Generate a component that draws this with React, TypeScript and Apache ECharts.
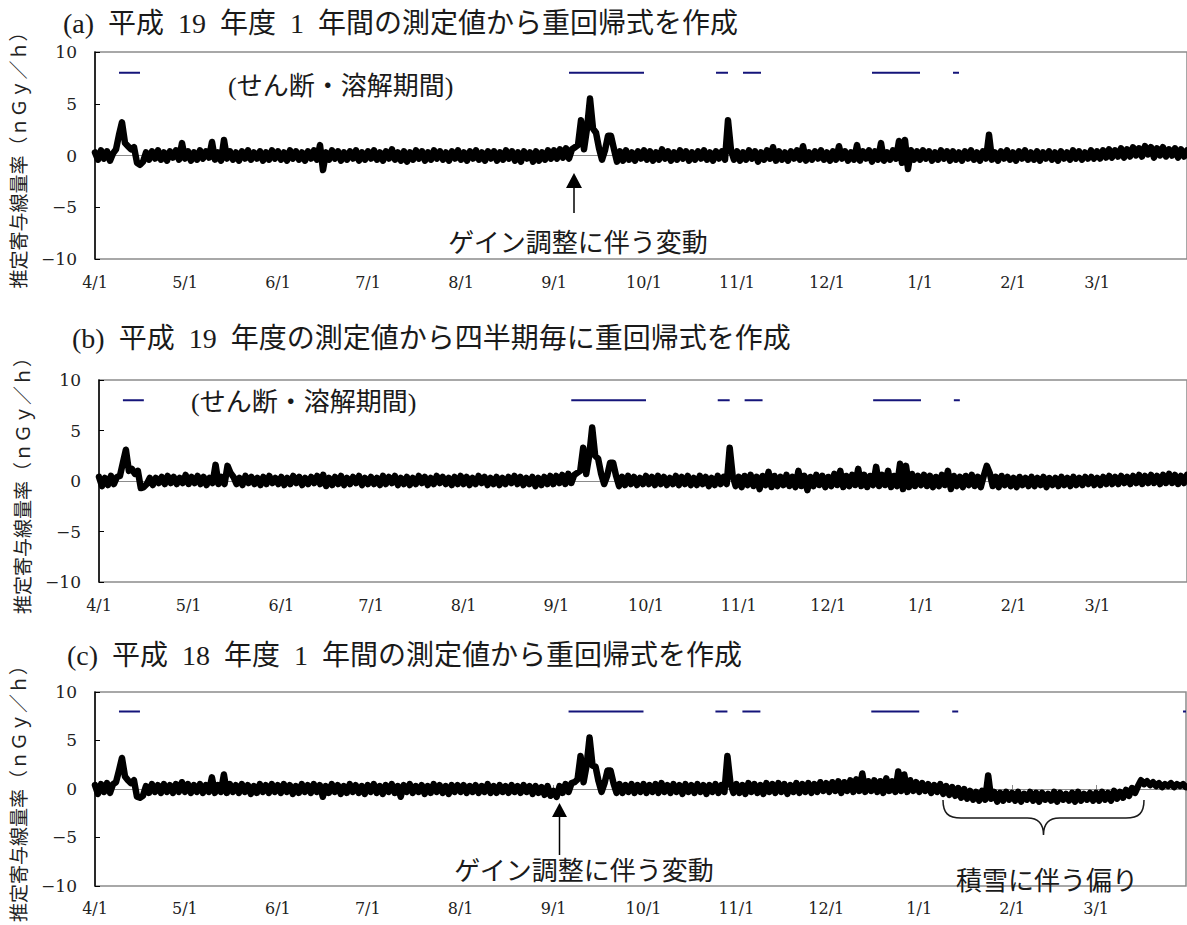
import React, { useEffect, useRef } from "react";
import * as echarts from "echarts";

// month order of a fiscal year (April -> March)
const monthNames = [4, 5, 6, 7, 8, 9, 10, 11, 12, 1, 2, 3];
const yMin = -10;
const yMax = 10;
const yInterval = 5;
const periodLevel = 8;

// shear / dissolution periods (day index from 4/1, inclusive)
const shearPeriodsAB = [[8, 15], [158, 183], [207, 211], [216, 222], [259, 275], [286, 288]];
const shearPeriodsC = [[8, 15], [158, 183], [207, 211], [216, 222], [259, 275], [286, 288], [363, 364]];

const titles = [
  "(a)\u2002平成\u200219\u2002年度\u20021\u2002年間の測定値から重回帰式を作成",
  "(b)\u2002平成\u200219\u2002年度の測定値から四半期毎に重回帰式を作成",
  "(c)\u2002平成\u200218\u2002年度\u20021\u2002年間の測定値から重回帰式を作成",
];
const yName = "推定寄与線量率（ｎＧｙ／ｈ）";
const periodNote = "(せん断・溶解期間)";
const gainNote = "ゲイン調整に伴う変動";
const snowNote = "積雪に伴う偏り";

// (a) daily estimated dose rate, one row per month
const doseA = [
  [0.3,-0.4,0.5,-0.3,0.4,-0.5,0.2,0.6,2.0,3.2,1.2,0.9,0.6,0.8,-0.7,-0.9,-0.6,0.3,-0.4,0.4,-0.3,0.5,-0.4,0.3,-0.5,0.4,-0.2,0.5,-0.4,1.2],
  [-0.3,0.4,-0.5,0.3,-0.4,0.5,-0.3,0.4,-0.2,1.3,-0.4,0.3,-0.5,1.5,-0.3,0.4,-0.4,0.3,-0.5,0.4,-0.3,0.5,-0.4,0.3,-0.3,0.4,-0.5,0.3,-0.4,0.5,-0.3],
  [0.4,-0.4,0.3,-0.5,0.5,-0.3,0.4,-0.4,0.3,-0.5,0.4,-0.3,0.5,-0.4,1.0,-1.4,0.3,-0.4,0.5,-0.3,0.4,-0.5,0.3,-0.4,0.4,-0.3,0.5,-0.5,0.3,-0.4],
  [0.4,-0.3,0.5,-0.4,0.3,-0.5,0.4,-0.3,0.6,-0.4,0.3,-0.5,0.4,-0.6,0.3,-0.4,0.5,-0.3,0.4,-0.5,0.3,-0.4,0.5,-0.3,0.4,-0.4,0.3,-0.5,0.4,-0.3,0.5],
  [-0.4,0.3,-0.5,0.4,-0.3,0.5,-0.4,0.3,-0.5,0.4,-0.3,0.4,-0.5,0.3,-0.4,0.5,-0.3,0.4,-0.5,0.3,-0.6,0.4,-0.3,0.3,-0.6,0.4,-0.5,0.3,-0.4,0.5,-0.3],
  [0.5,-0.3,0.6,-0.2,0.7,-0.3,0.6,0.8,1.0,3.4,0.6,2.6,5.5,2.6,2.2,0.7,-0.4,0.5,1.9,1.9,0.6,-0.6,0.4,-0.5,0.5,-0.4,0.3,-0.5,0.4,-0.3],
  [0.5,-0.4,0.4,-0.5,0.3,-0.4,0.6,-0.3,0.4,-0.5,0.3,-0.4,0.5,-0.3,0.4,-0.5,0.3,-0.4,0.4,-0.3,0.5,-0.4,0.3,-0.5,0.4,-0.3,0.4,-0.4,3.4,0.5,-0.4],
  [0.4,-0.5,0.3,-0.4,0.5,-0.3,0.4,-0.6,0.3,-0.4,0.5,-0.3,0.8,-0.5,0.4,-0.4,0.3,-0.5,0.4,-0.3,0.5,-0.4,0.9,-0.5,0.3,-0.4,0.4,-0.3,0.5,-0.4],
  [0.3,-0.5,0.4,-0.4,0.9,-0.3,0.4,-0.5,0.3,-0.4,1.0,-0.5,0.4,-0.3,0.5,-0.6,0.4,-0.4,1.2,-0.5,0.3,-0.4,0.5,-0.3,1.4,-0.7,1.5,-1.3,0.5,-0.4,0.4],
  [-0.4,0.5,-0.3,0.4,-0.5,0.3,-0.4,0.5,-0.3,0.4,-0.5,0.4,-0.4,0.3,-0.5,0.4,-0.3,0.5,-0.4,0.3,-0.5,0.4,-0.3,2.0,-0.4,0.3,-0.5,0.4,-0.3,0.5,-0.4],
  [0.3,-0.5,0.4,-0.3,0.5,-0.4,0.3,-0.4,0.4,-0.5,0.3,-0.3,0.4,-0.4,0.3,-0.5,0.4,-0.3,0.3,-0.4,0.5,-0.3,0.4,-0.4,0.3,-0.3,0.5,-0.3],
  [0.4,-0.3,0.5,-0.2,0.6,-0.2,0.5,-0.1,0.7,-0.2,0.6,-0.1,0.8,0.0,0.7,-0.1,0.9,0.1,0.8,-0.2,0.7,0.0,0.8,-0.1,0.6,0.0,0.7,-0.2,0.6,-0.1,0.5],
];

// (b)
const doseB = [
  [0.4,-0.5,0.3,-0.4,0.5,-0.3,0.4,0.5,1.8,3.1,1.0,1.2,0.7,1.0,-0.7,-0.6,-0.3,0.3,-0.4,0.3,-0.2,0.4,-0.3,0.5,-0.2,0.4,-0.3,0.3,-0.2,0.6],
  [-0.3,0.4,-0.2,0.5,-0.3,0.4,-0.4,0.3,-0.2,1.6,-0.3,0.4,-0.3,1.5,0.8,0.4,-0.3,0.3,-0.4,0.5,-0.2,0.4,-0.3,0.3,-0.4,0.4,-0.3,0.5,-0.2,0.3,-0.3],
  [0.4,-0.4,0.3,-0.3,0.5,-0.2,0.4,-0.4,0.3,-0.3,0.4,-0.2,0.5,-0.3,0.6,-0.5,0.3,-0.4,0.4,-0.3,0.5,-0.4,0.3,-0.3,0.4,-0.2,0.5,-0.4,0.3,-0.3],
  [0.4,-0.3,0.3,-0.4,0.5,-0.3,0.4,-0.2,0.5,-0.4,0.3,-0.3,0.4,-0.4,0.3,-0.3,0.5,-0.2,0.4,-0.4,0.3,-0.3,0.5,-0.2,0.4,-0.3,0.3,-0.4,0.4,-0.3,0.5],
  [-0.3,0.4,-0.4,0.3,-0.3,0.5,-0.2,0.4,-0.4,0.3,-0.3,0.4,-0.4,0.3,-0.3,0.4,-0.2,0.5,-0.3,0.4,-0.4,0.3,-0.3,0.4,-0.5,0.3,-0.4,0.4,-0.3,0.5,-0.3],
  [0.5,-0.2,0.6,-0.3,0.7,-0.2,0.6,0.8,1.0,3.3,0.7,2.5,5.3,2.5,2.2,0.7,-0.3,0.5,1.8,1.8,0.5,-0.5,0.4,-0.4,0.5,-0.3,0.4,-0.4,0.3,-0.3],
  [0.5,-0.3,0.4,-0.4,0.5,-0.3,0.4,-0.4,0.3,-0.3,0.5,-0.4,0.4,-0.3,0.5,-0.4,0.3,-0.4,0.5,-0.3,0.4,-0.5,0.3,-0.4,0.5,-0.3,0.4,-0.3,3.3,0.5,-0.5],
  [0.4,-0.6,0.5,-0.4,0.6,-0.5,0.4,-0.8,0.5,-0.4,0.9,-0.6,0.5,-0.5,0.4,-0.4,0.6,-0.5,0.4,-0.6,1.0,-0.5,0.5,-0.9,0.4,-0.5,0.6,-0.4,0.5,-0.6],
  [0.4,-0.5,0.7,-0.4,1.0,-0.6,0.5,-0.5,0.6,-0.4,1.2,-0.5,0.6,-0.6,0.5,-0.4,1.4,-0.5,0.6,-0.4,1.0,-0.6,0.5,-0.5,1.7,-0.8,1.5,-0.6,0.7,-0.5,0.5],
  [-0.4,0.6,-0.5,0.5,-0.6,0.4,-0.5,0.6,-0.4,1.0,-0.8,0.5,-0.5,0.4,-0.6,0.5,-0.4,0.6,-0.5,0.4,-0.6,0.5,1.5,0.8,-0.5,0.4,-0.6,0.5,-0.4,0.4,-0.5],
  [0.3,-0.6,0.4,-0.4,0.3,-0.5,0.4,-0.5,0.3,-0.4,0.4,-0.6,0.3,-0.4,0.3,-0.5,0.4,-0.4,0.3,-0.5,0.4,-0.4,0.3,-0.4,0.4,-0.3,0.4,-0.4],
  [0.3,-0.4,0.4,-0.3,0.5,-0.3,0.4,-0.3,0.5,-0.2,0.4,-0.3,0.5,-0.2,0.6,-0.3,0.5,-0.2,0.6,-0.2,0.5,-0.3,0.6,-0.2,0.7,-0.2,0.6,-0.3,0.5,-0.2,0.6],
];

// (c)
const doseC = [
  [0.4,-0.5,0.5,-0.3,0.6,-0.4,0.5,0.7,1.9,3.2,1.3,0.9,0.6,0.9,-0.8,-0.9,-0.7,0.3,-0.4,0.5,-0.3,0.4,-0.4,0.5,-0.3,0.4,-0.4,0.5,-0.3,0.7],
  [-0.3,0.5,-0.4,0.4,-0.3,0.5,-0.4,0.4,-0.3,1.2,-0.4,0.4,-0.3,1.5,-0.4,0.5,-0.3,0.4,-0.4,0.5,-0.3,0.4,-0.5,0.3,-0.4,0.5,-0.3,0.4,-0.4,0.5,-0.3],
  [0.4,-0.4,0.5,-0.3,0.4,-0.5,0.3,-0.4,0.5,-0.3,0.4,-0.4,0.5,-0.3,0.4,-0.8,0.3,-0.4,0.5,-0.3,0.4,-0.5,0.3,-0.4,0.5,-0.3,0.4,-0.4,0.3,-0.5],
  [0.4,-0.3,0.5,-0.4,0.3,-0.5,0.4,-0.3,0.5,-0.4,0.3,-0.8,0.4,-0.3,0.5,-0.4,0.3,-0.3,0.4,-0.5,0.3,-0.4,0.5,-0.3,0.4,-0.4,0.3,-0.5,0.4,-0.3,0.4],
  [-0.3,0.4,-0.4,0.3,-0.3,0.4,-0.4,0.3,-0.3,0.5,-0.4,0.3,-0.4,0.4,-0.3,0.3,-0.4,0.4,-0.3,0.3,-0.4,0.4,-0.3,0.3,-0.5,0.3,-0.4,0.2,-0.6,0.3,-0.7],
  [-0.2,-0.8,0.3,-0.4,0.5,-0.3,0.6,0.7,1.0,3.4,0.7,2.4,5.3,2.4,2.3,0.8,-0.3,0.6,1.9,1.9,0.6,-0.4,0.5,-0.4,0.4,-0.3,0.5,-0.4,0.4,-0.3],
  [0.5,-0.4,0.4,-0.3,0.5,-0.4,0.6,-0.3,0.4,-0.4,0.5,-0.3,0.4,-0.5,0.5,-0.3,0.4,-0.4,0.5,-0.3,0.4,-0.5,0.4,-0.3,0.5,-0.4,0.4,-0.3,3.4,0.6,-0.4],
  [0.5,-0.4,0.4,-0.5,0.6,-0.3,0.5,-0.4,0.4,-0.5,0.6,-0.3,0.5,-0.4,0.6,-0.3,0.5,-0.5,0.4,-0.3,0.6,-0.4,0.5,-0.3,0.6,-0.4,0.5,-0.3,0.7,-0.2],
  [0.6,-0.3,0.7,-0.2,0.8,-0.4,0.7,-0.2,0.9,-0.3,1.0,-0.2,1.6,-0.3,0.8,-0.2,0.9,-0.3,0.8,-0.4,1.1,-0.2,0.8,-0.3,1.8,-0.2,1.5,-0.3,0.9,-0.2,0.7],
  [-0.3,0.6,-0.2,0.5,-0.4,0.4,-0.3,0.5,-0.5,0.3,-0.6,0.2,-0.7,0.1,-0.9,0.0,-1.0,-0.2,-1.1,-0.3,-1.2,-0.2,-1.1,1.4,-1.0,-0.3,-1.3,-0.4,-1.2,-0.3,-1.1],
  [-0.4,-1.2,-0.3,-1.3,-0.5,-1.1,-0.3,-1.2,-0.4,-1.3,-0.4,-1.1,-0.5,-1.2,-0.3,-1.3,-0.4,-1.1,-0.5,-1.2,-0.4,-1.3,-0.3,-1.2,-0.5,-1.1,-0.4,-1.2],
  [-0.4,-1.2,-0.3,-1.1,-0.4,-1.2,-0.2,-1.0,-0.3,-0.9,-0.1,-0.7,0.1,-0.4,0.3,0.9,0.5,0.8,0.4,0.7,0.3,0.6,0.2,0.5,0.3,0.6,0.2,0.5,0.3,0.5,0.2],
];

const bracePath =
  "M0,0 C0,13 5,18 18,18 L84,18 C95,18 100,24 100,35 C100,24 105,18 116,18 L182,18 C195,18 200,13 200,0";
echarts.graphic.registerShape("brace", echarts.graphic.extendPath(bracePath, {}));

function buildPanel(rows: number[][]) {
  const labels: string[] = [];
  const values: number[] = [];
  rows.forEach((row, i) => {
    row.forEach((v, d) => {
      labels.push(`${monthNames[i]}/${d + 1}`);
      values.push(v);
    });
  });
  return { labels, values };
}

function periodSeriesData(n: number, periods: number[][]) {
  const out: (number | null)[] = [];
  for (let i = 0; i < n; i++) {
    out.push(periods.some(([s, e]) => i >= s && i <= e) ? periodLevel : null);
  }
  return out;
}

const SERIF = "'Liberation Serif', 'Noto Sans CJK JP', serif";
const NUMFONT = "DejaVu Serif";
const CJK = "Noto Sans CJK JP";

export default function App() {
  const ref = useRef<HTMLDivElement>(null);
  useEffect(() => {
    if (!ref.current) return;
    const chart = echarts.init(ref.current, undefined, { renderer: "svg" });
    const panels = [buildPanel(doseA), buildPanel(doseB), buildPanel(doseC)];
    const periods = [shearPeriodsAB, shearPeriodsAB, shearPeriodsC];
    const layout = [
      { left: 95, top: 52, height: 207 },
      { left: 99, top: 380, height: 202 },
      { left: 93, top: 692, height: 200 },
    ];
    const isMonthStart = (_i: number, v: string) => /\/1$/.test(v);

    const grid: any[] = [];
    const xAxis: any[] = [];
    const yAxis: any[] = [];
    const series: any[] = [];
    panels.forEach((p, i) => {
      grid.push({
        left: layout[i].left,
        top: layout[i].top,
        width: 1093,
        height: layout[i].height,
        show: true,
        borderColor: "#8c8c8c",
        borderWidth: 1.5,
        backgroundColor: "transparent",
      });
      xAxis.push({
        gridIndex: i,
        type: "category",
        data: p.labels,
        boundaryGap: false,
        position: "bottom",
        axisLine: { show: false, onZero: false },
        axisTick: { show: false },
        splitLine: { show: false },
        axisLabel: {
          interval: isMonthStart,
          margin: 15,
          fontFamily: NUMFONT,
          fontSize: 16,
          color: "#222",
        },
      });
      xAxis.push({
        gridIndex: i,
        type: "category",
        data: p.labels,
        boundaryGap: false,
        position: "bottom",
        axisLine: { show: true, onZero: true, lineStyle: { color: "#8c8c8c", width: 1 } },
        axisTick: { show: true, inside: true, length: 4, interval: isMonthStart, lineStyle: { color: "#8c8c8c" } },
        axisLabel: { show: false },
        splitLine: { show: false },
      });
      yAxis.push({
        gridIndex: i,
        type: "value",
        min: yMin,
        max: yMax,
        interval: yInterval,
        axisLine: { show: true, lineStyle: { color: "#000", width: 1.5 } },
        axisTick: { show: true, inside: true, length: 5, lineStyle: { color: "#000" } },
        splitLine: { show: false },
        axisLabel: {
          margin: 18,
          fontFamily: NUMFONT,
          fontSize: 17,
          color: "#222",
          formatter: (v: number) => (v < 0 ? "\u2212" + Math.abs(v) : String(v)),
        },
        name: yName,
        nameLocation: "middle",
        nameRotate: 90,
        nameGap: 68,
        nameTextStyle: { fontFamily: CJK, fontSize: 19, color: "#222" },
      });
      series.push({
        type: "line",
        xAxisIndex: 2 * i,
        yAxisIndex: i,
        data: periodSeriesData(p.values.length, periods[i]),
        showSymbol: false,
        connectNulls: false,
        silent: true,
        lineStyle: { color: "#14147a", width: 2 },
      });
      series.push({
        type: "line",
        xAxisIndex: 2 * i,
        yAxisIndex: i,
        data: p.values,
        showSymbol: false,
        silent: true,
        lineStyle: { color: "#000", width: 6.5, join: "round", cap: "round" },
      });
    });

    const txt = (text: string, x: number, y: number, size: number, font: string, align = "left") => ({
      type: "text",
      x,
      y,
      silent: true,
      style: { text, fontSize: size, fontFamily: font, fill: "#1a1a1a", textAlign: align, textVerticalAlign: "middle" },
    });

    const graphic: any[] = [
      txt(titles[0], 63, 23, 28, SERIF),
      txt(titles[1], 72, 338, 28, SERIF),
      txt(titles[2], 67, 655, 28, SERIF),
      txt(periodNote, 228, 86, 26, SERIF),
      txt(periodNote, 191, 402, 26, SERIF),
      // arrow (a)
      { type: "line", silent: true, shape: { x1: 574, y1: 186, x2: 574, y2: 213 }, style: { stroke: "#000", lineWidth: 1.5 } },
      { type: "polygon", silent: true, shape: { points: [[566, 188], [582, 188], [574, 173]] }, style: { fill: "#000" } },
      txt(gainNote, 578, 240, 26, CJK, "center"),
      // arrow (c)
      { type: "line", silent: true, shape: { x1: 559.5, y1: 815, x2: 559.5, y2: 855 }, style: { stroke: "#000", lineWidth: 1.5 } },
      { type: "polygon", silent: true, shape: { points: [[552, 817], [567, 817], [559.5, 803]] }, style: { fill: "#000" } },
      txt(gainNote, 584, 868, 26, CJK, "center"),
      // brace (c)
      { type: "brace", silent: true, x: 943, y: 800, scaleX: 1.005, scaleY: 1, style: { stroke: "#1a1a1a", fill: "none", lineWidth: 1.5 } },
      txt(snowNote, 1047, 878, 26, CJK, "center"),
    ];

    chart.setOption({
      animation: false,
      backgroundColor: "#fff",
      textStyle: { fontFamily: NUMFONT, fontSize: 16, color: "#222" },
      grid,
      xAxis,
      yAxis,
      series,
      graphic,
    });
    return () => chart.dispose();
  }, []);
  return (
    <div
      ref={ref}
      style={{ position: "absolute", left: 0, top: 0, width: 1187, height: 925, background: "#fff" }}
    />
  );
}
